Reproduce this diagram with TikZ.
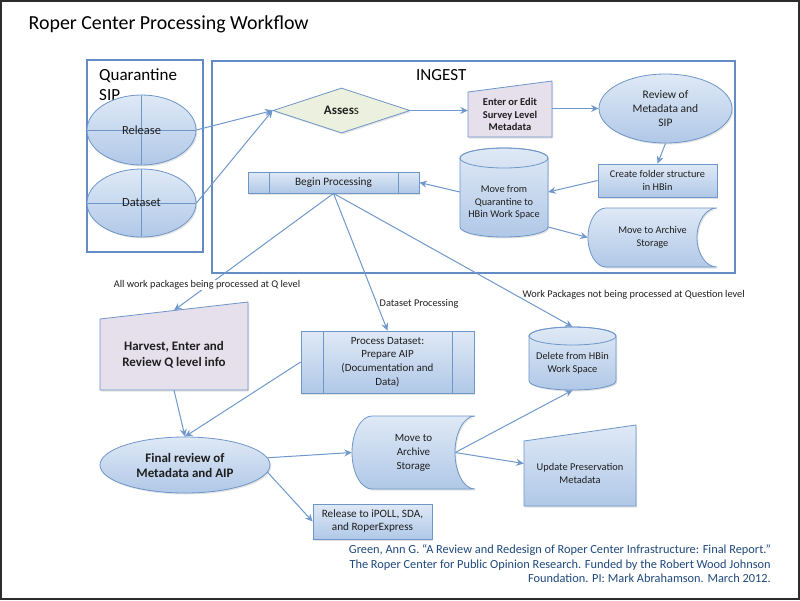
\documentclass[tikz,border=0pt]{standalone}
\usepackage{fontspec}
\setmainfont{Carlito}
\usetikzlibrary{arrows.meta,shapes.geometric,shadows,calc}
\definecolor{bluetop}{RGB}{223,233,246}
\definecolor{bluebot}{RGB}{176,200,231}
\definecolor{shapeline}{RGB}{110,150,201}
\definecolor{boxline}{RGB}{98,140,196}
\definecolor{conncol}{RGB}{112,152,204}
\definecolor{lavender}{RGB}{230,224,237}
\definecolor{palegreen}{RGB}{235,241,222}
\definecolor{citecol}{RGB}{31,73,125}
\definecolor{framecol}{RGB}{45,45,45}
\newcommand\myfs[2]{\fontsize{#1}{#2}\selectfont}
\begin{document}
\begin{tikzpicture}[x=1pt,y=-1pt,
  container/.style={draw=boxline, line width=2.3pt},
  shadowed/.style={drop shadow={opacity=0.22, shadow xshift=1.2pt, shadow yshift=-1.5pt}},
  blueshape/.style={shadowed, top color=bluetop, bottom color=bluebot, draw=shapeline, line width=0.8pt},
  lavshape/.style={shadowed, fill=lavender, draw=shapeline, line width=0.8pt},
  txt/.style={align=center, inner sep=0pt, text=black!88},
  ppline/.style={draw=shapeline, line width=0.8pt},
  crossed/.style={path picture={\draw[ppline] (path picture bounding box.west) -- (path picture bounding box.east) (path picture bounding box.north) -- (path picture bounding box.south);}},
  pproc/.style={path picture={\draw[ppline] ([xshift=#1]path picture bounding box.north west) -- ([xshift=#1]path picture bounding box.south west) ([xshift=-#1]path picture bounding box.north east) -- ([xshift=-#1]path picture bounding box.south east);}},
  conn/.style={draw=conncol, line width=1pt, -{Stealth[length=7.5pt,width=7pt,inset=2.5pt]}},
  conlabel/.style={font=\myfs{10.3}{12}, inner sep=1pt, text=black!88}
]
\useasboundingbox (0,0) rectangle (800,600);
\fill[white] (0,0) rectangle (800,600);
\draw[framecol, line width=1.6pt] (0.8,0.8) rectangle (799.2,599.2);

% title
\node[anchor=base west, inner sep=0pt, font=\myfs{19.9}{23}] (title) at (28.5,29) {Roper Center Processing Workflow};

% containers
\draw[container] (87,60) rectangle (203,252);
\draw[container] (212,61) rectangle (735,273);
\node[anchor=south west, align=left, inner sep=0pt, font=\myfs{17}{20}] (qsip) at (99,100.5) {Quarantine\\SIP};
\node[anchor=base west, inner sep=0pt, font=\myfs{17}{20}] (ingest) at (416,80) {INGEST};

% quarantine ellipses
\node[ellipse, blueshape, crossed, txt, minimum width=109pt, minimum height=70pt, font=\myfs{12.5}{15}] (rel) at (141.5,130) {Release};
\node[ellipse, blueshape, crossed, txt, minimum width=109pt, minimum height=68pt, font=\myfs{12.5}{15}] (dat) at (141.5,203) {Dataset};

% assess
\node[diamond, aspect=3, shadowed, fill=palegreen, draw=shapeline, line width=0.8pt, txt, minimum width=137pt, minimum height=45pt, font=\myfs{13}{15}] (dia) at (341.5,110.5) {\textbf{Asses}s};

% enter or edit (manual input)
\path[lavshape] (468,92) -- (552,81) -- (552,137) -- (468,137) -- cycle;
\node[txt, minimum width=84pt, minimum height=45pt, font=\bfseries\myfs{10.5}{12.3}] (enter) at (510,114.5) {Enter or Edit\\Survey Level\\Metadata};

% review
\node[ellipse, blueshape, txt, minimum width=133pt, minimum height=69pt, font=\myfs{11.5}{14}] (rev) at (665.5,108.5) {Review of\\Metadata and\\SIP};

% create folder
\node[rectangle, blueshape, txt, minimum width=119pt, minimum height=33pt, font=\myfs{10.3}{12.5}] (create) at (657.5,180.5) {Create folder structure\\in HBin};

% move from quarantine (cylinder)
\path[blueshape] (460,158) -- (460,227) .. controls (460,232.52) and (479.7,237) .. (504,237) .. controls (528.3,237) and (548,232.52) .. (548,227) -- (548,158) .. controls (548,152.48) and (528.3,148) .. (504,148) .. controls (479.7,148) and (460,152.48) .. (460,158) -- cycle;
\draw[ppline] (504,158) ellipse [x radius=44, y radius=10];
\node[txt, minimum width=88pt, minimum height=70pt, font=\myfs{10.3}{12.5}] (mq) at (504,202.5) {Move from\\Quarantine to\\HBin Work Space};

% begin processing
\node[rectangle, blueshape, pproc=21pt, txt, minimum width=171pt, minimum height=21pt, font=\myfs{11.3}{13}] (begin) at (333.5,182.5) {Begin Processing};

% move to archive (top, stored data)
\path[blueshape] (606,208) -- (717,208) .. controls (705.95,208) and (697,221.21) .. (697,237.5) .. controls (697,253.79) and (705.95,267) .. (717,267) -- (606,267) .. controls (596.06,267) and (588,253.79) .. (588,237.5) .. controls (588,221.21) and (596.06,208) .. (606,208) -- cycle;
\node[txt, minimum width=129pt, minimum height=59pt, font=\myfs{10.3}{12.5}] (arch1) at (652.5,237.5) {Move to Archive\\Storage};

% harvest (manual input)
\path[lavshape] (100,319) -- (248,302) -- (248,390) -- (100,390) -- cycle;
\node[txt, minimum width=148pt, minimum height=71pt, font=\bfseries\myfs{13}{16}] (harv) at (174,354.5) {Harvest, Enter and\\Review Q level info};

% process dataset
\node[rectangle, blueshape, pproc=22pt, txt, minimum width=173pt, minimum height=62pt, font=\myfs{11}{13.7}] (pd) at (387.5,362) {Process Dataset:\\Prepare AIP\\(Documentation and\\Data)};

% delete from HBin (cylinder)
\path[blueshape] (529,336) -- (529,381) .. controls (529,385.97) and (548.48,390) .. (572.5,390) .. controls (596.52,390) and (616,385.97) .. (616,381) -- (616,336) .. controls (616,331.03) and (596.52,327) .. (572.5,327) .. controls (548.48,327) and (529,331.03) .. (529,336) -- cycle;
\draw[ppline] (572.5,336) ellipse [x radius=43.5, y radius=9];
\node[txt, minimum width=87pt, minimum height=54pt, font=\myfs{10.4}{12.5}] (del) at (572.5,363) {Delete from HBin\\Work Space};

% final review
\node[ellipse, blueshape, txt, minimum width=170pt, minimum height=56pt, font=\bfseries\myfs{13}{15}] (final) at (185,465) {Final review of\\Metadata and AIP};

% move to archive (bottom, stored data)
\path[blueshape] (372,416) -- (475,416) .. controls (463.95,416) and (455,432.34) .. (455,452.5) .. controls (455,472.66) and (463.95,489) .. (475,489) -- (372,489) .. controls (360.95,489) and (352,472.66) .. (352,452.5) .. controls (352,432.34) and (360.95,416) .. (372,416) -- cycle;
\node[txt, minimum width=123pt, minimum height=73pt, font=\myfs{11}{14}] (arch2) at (413.5,452.5) {Move to\\Archive\\Storage};

% release to iPOLL
\node[rectangle, blueshape, txt, minimum width=119pt, minimum height=35pt, font=\myfs{11.2}{13}] (rel2) at (372.5,521.5) {Release to iPOLL, SDA,\\and RoperExpress};

% update preservation metadata (manual input)
\path[blueshape] (524,441) -- (636,425) -- (636,506) -- (524,506) -- cycle;
\node[txt, minimum width=112pt, minimum height=65pt, font=\myfs{10.4}{12.5}] (upd) at (580,473.5) {Update Preservation\\Metadata};

% connectors
\draw[conn] (rel.east) -- (dia.west);
\draw[conn] (dat.east) -- (dia.west);
\draw[conn] (dia.east) -- (dia.east -| enter.west);
\draw[conn] (enter.east |- rev.west) -- (rev.west);
\draw[conn] (rev.south) -- (create.north);
\draw[conn] (create.west) -- ([yshift=10.5pt]mq.east);
\draw[conn] ([yshift=10.5pt]mq.west) -- (begin.east);
\draw[conn] ([yshift=-24.5pt]mq.east) -- (arch1.west);
\draw[conn] (begin.south) -- ([yshift=8.5pt]harv.north);
\draw[conn] (begin.south) -- (pd.north);
\draw[conn] (begin.south) -- ([yshift=9pt]del.north);
\draw[conn] (harv.south) -- (final.north);
\draw[conn] (pd.west) -- (final.north);
\draw[conn] (final.5) -- (arch2.west);
\draw[conn] (final.-5) -- (rel2.west);
\draw[conn] ([xshift=-20pt]arch2.east) -- (del.south);
\draw[conn] ([xshift=-20pt]arch2.east) -- ([yshift=10pt]upd.west);

% connector labels
\node[conlabel, fill=white] (lab1) at (207,285) {All work packages being processed at Q level};
\node[conlabel, anchor=west] (lab2) at (378.5,304) {Dataset Processing};
\node[conlabel, anchor=west] (lab3) at (521.5,295) {Work Packages not being processed at Question level};

% citation
\node[anchor=south east, align=right, inner sep=0pt, text=citecol, font=\myfs{12.35}{14.35}] (cite) at (771,582.7) {Green, Ann G. “A Review and Redesign of Roper Center Infrastructure: Final Report.”\\The Roper Center for Public Opinion Research. Funded by the Robert Wood Johnson\\Foundation. PI: Mark Abrahamson. March 2012.};
\end{tikzpicture}
\end{document}
